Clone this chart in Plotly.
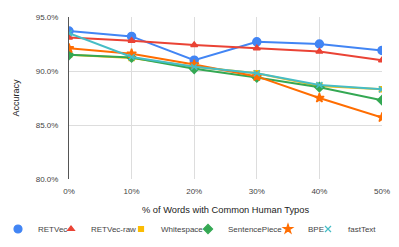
import plotly.graph_objects as go

typo_pct = [0, 10, 20, 30, 40, 50]
tick_labels = ["0%", "10%", "20%", "30%", "40%", "50%"]
acc_ticks = [80, 85, 90, 95]
acc_labels = ["80.0%", "85.0%", "90.0%", "95.0%"]

retvec = [93.7, 93.2, 91.0, 92.7, 92.5, 91.9]
retvec_raw = [93.1, 92.8, 92.4, 92.1, 91.8, 91.0]
whitespace = [91.5, 91.2, 90.4, 89.8, 88.6, 88.3]
sentencepiece = [91.5, 91.25, 90.2, 89.4, 88.5, 87.3]
bpe = [92.1, 91.6, 90.6, 89.5, 87.5, 85.7]
fasttext = [93.5, 91.3, 90.4, 89.8, 88.7, 88.3]

# name, values, colour, marker symbol, marker size, legend x (px)
series = [
    ("RETVec", retvec, "#4285F4", "circle", 8, 29),
    ("RETVec-raw", retvec_raw, "#EA4335", "triangle-up", 6, 82),
    ("Whitespace", whitespace, "#FBBC04", "square", 5, 152),
    ("SentencePiece", sentencepiece, "#34A853", "diamond", 7, 219),
    ("BPE", bpe, "#FF6D01", "star", 7, 299),
    ("fastText", fasttext, "#46BDC6", "x-thin-open", 6, 339),
]

L, R, T, B = 69, 17, 17, 68
W, H = 399, 247
plot_w = W - L - R
plot_h = H - T - B
legend_y = 229

fig = go.Figure()
legends = {}
for i, (name, vals, color, symbol, size, lx) in enumerate(series):
    fig.add_trace(go.Scatter(
        x=typo_pct, y=vals, name=name, mode="lines+markers", showlegend=False,
        line=dict(color=color, width=2),
        marker=dict(symbol=symbol, size=size, color=color,
                    line=dict(color=color, width=1.5)),
    ))
    key = "legend" if i == 0 else f"legend{i + 1}"
    # legend-only entry, markers only like the original
    fig.add_trace(go.Scatter(
        x=[None], y=[None], name=name, mode="markers", legend=key,
        marker=dict(symbol=symbol, size=size, color=color,
                    line=dict(color=color, width=1.2)),
    ))
    legends[key] = dict(
        orientation="h", x=(lx - 31 - L) / plot_w, xanchor="left",
        y=-(legend_y - (H - B)) / plot_h, yanchor="middle",
        bgcolor="rgba(0,0,0,0)",
        font=dict(size=8, color="#444"), itemwidth=30,
    )

fig.update_layout(
    width=W, height=H,
    margin=dict(l=L, r=R, t=T, b=B, autoexpand=False),
    paper_bgcolor="white", plot_bgcolor="white",
    font=dict(family="Liberation Sans, Arial, sans-serif", size=8, color="#444"),
    **legends,
    xaxis=dict(
        range=[0, 50], tickvals=typo_pct, ticktext=tick_labels,
        showgrid=True, gridcolor="#dddddd", gridwidth=1,
        zeroline=False, showline=False,
        ticks="outside", ticklen=4, tickcolor="rgba(0,0,0,0)",
        title=dict(text="% of Words with Common Human Typos",
                   font=dict(size=9.3, color="#222"), standoff=11),
    ),
    yaxis=dict(
        range=[80, 95], tickvals=acc_ticks, ticktext=acc_labels,
        showgrid=True, gridcolor="#dddddd", gridwidth=1,
        zeroline=False, showline=True, linecolor="#555", linewidth=1,
        ticks="outside", ticklen=8, tickcolor="rgba(0,0,0,0)",
        title=dict(text="Accuracy", font=dict(size=9, color="#222"), standoff=14),
    ),
)

# the page body has an 8px default margin, drop it so the chart sits at 0,0
fig.write_html("out.html", config={"displayModeBar": False},
               post_script="document.body.style.margin='0px';")
